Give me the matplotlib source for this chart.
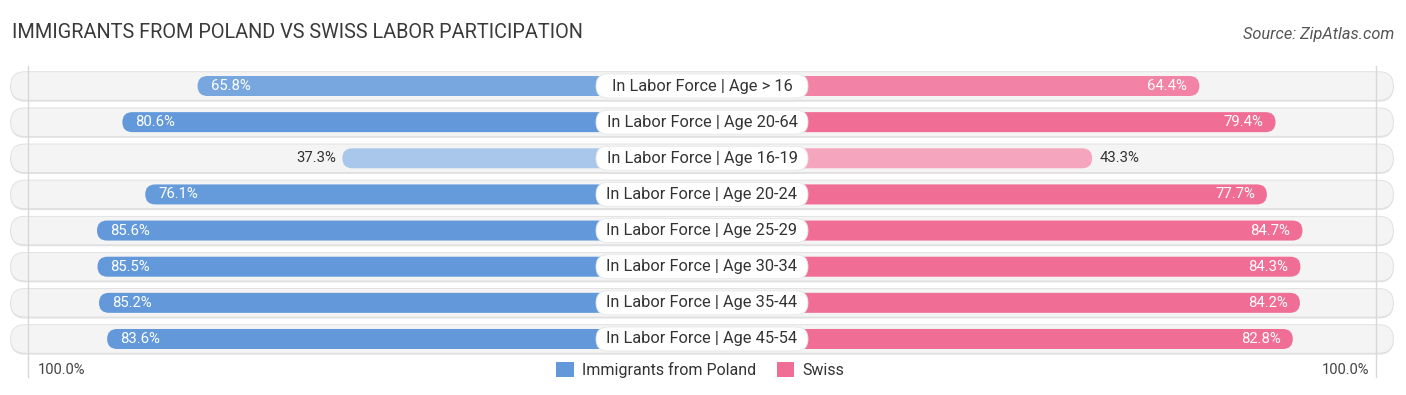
import matplotlib
matplotlib.use("Agg")
import matplotlib.pyplot as plt
from matplotlib.patches import FancyBboxPatch, Patch
import numpy as np

plt.rcParams['font.family'] = ['Roboto', 'DejaVu Sans']

categories = ["In Labor Force | Age > 16", "In Labor Force | Age 20-64", "In Labor Force | Age 16-19",
              "In Labor Force | Age 20-24", "In Labor Force | Age 25-29", "In Labor Force | Age 30-34",
              "In Labor Force | Age 35-44", "In Labor Force | Age 45-54"]
poland = [65.8, 80.6, 37.3, 76.1, 85.6, 85.5, 85.2, 83.6]
swiss = [64.4, 79.4, 43.3, 77.7, 84.7, 84.3, 84.2, 82.8]
series_names = ["Immigrants from Poland", "Swiss"]
title = "IMMIGRANTS FROM POLAND VS SWISS LABOR PARTICIPATION"
source = "Source: ZipAtlas.com"
axis_label = "100.0%"

W, H = 1406, 395
PX_X = 5.08      # px per percent unit
PX_Y = 36.14     # px per row
CX = 702         # center px
ROW0 = 86        # first row center px from top
OFFSET = 33.5    # zero offset (units) from center
ASPECT = PX_X / PX_Y

blue = np.array([99, 153, 218]) / 255
pink = np.array([240, 109, 150]) / 255

def shade(base, v):
    t = np.clip((v - 37) / (78 - 37), 0, 1)
    a = 0.55 + 0.45 * t
    return tuple(1 - a * (1 - base))

fig = plt.figure(figsize=(W / 100, H / 100), dpi=100)
ax = fig.add_axes([0, 0, 1, 1])
ax.set_xlim(-CX / PX_X, (W - CX) / PX_X)
ax.set_ylim(-(H - ROW0) / PX_Y, ROW0 / PX_Y)
ax.axis('off')

def rbox(x0, yc, w, h_px, **kw):
    h = h_px / PX_Y
    r = (h_px / 2) / PX_X
    p = FancyBboxPatch((x0, yc - h / 2), w, h,
                       boxstyle=f"round,pad=0,rounding_size={r}",
                       mutation_aspect=ASPECT, **kw)
    ax.add_patch(p)
    return p

pill_half = 136.1
for i, cat in enumerate(categories):
    y = -i
    rbox(-pill_half, y - 1.2 / PX_Y, 2 * pill_half, 29, facecolor="#e2e2e2", edgecolor="none", zorder=1)
    rbox(-pill_half, y, 2 * pill_half, 28.5, facecolor="#f4f4f4", edgecolor="#dedede", linewidth=0.6, zorder=1.1)

# faint vertical lines near 100%
for s in (-1, 1):
    ax.plot([s * (OFFSET + 99.2)] * 2, [20 / PX_Y, -(377 - ROW0) / PX_Y],
            color="#d8d8d8", linewidth=1, zorder=1.5)

for i, cat in enumerate(categories):
    y = -i
    vl, vr = poland[i], swiss[i]
    wl = OFFSET + vl
    rbox(-wl, y, wl, 20, facecolor=shade(blue, vl), edgecolor="none", zorder=2)
    wr = OFFSET + vr
    rbox(0, y, wr, 20, facecolor=shade(pink, vr), edgecolor="none", zorder=2)
    if vl > 50:
        ax.text(-wl + 13 / PX_X, y, f"{vl:.1f}%", ha="left", va="center", color="white",
                fontsize=10.7, zorder=4)
    else:
        ax.text(-wl - 6 / PX_X, y, f"{vl:.1f}%", ha="right", va="center", color="#333333",
                fontsize=10.7, zorder=4)
    if vr > 50:
        ax.text(wr - 12 / PX_X, y, f"{vr:.1f}%", ha="right", va="center", color="white",
                fontsize=10.7, zorder=4)
    else:
        ax.text(wr + 7 / PX_X, y, f"{vr:.1f}%", ha="left", va="center", color="#333333",
                fontsize=10.7, zorder=4)
    lw = 212 / PX_X
    rbox(-lw / 2, y, lw, 24, facecolor="white", edgecolor="#e6e6e6", linewidth=0.6, zorder=3)
    ax.text(0, y, cat, ha="center", va="center", color="#333333", fontsize=11.8, zorder=4)

fig.text(12 / W, 1 - 33 / H, title, ha="left", va="center", fontsize=14.3, color="#3a3a3a")
fig.text(1394 / W, 1 - 34 / H, source, ha="right", va="center", fontsize=11.8, color="#555555",
         style="italic")

fig.text(38 / W, 1 - 370 / H, axis_label, ha="left", va="center", fontsize=10.5, color="#444444")
fig.text(1369 / W, 1 - 370 / H, axis_label, ha="right", va="center", fontsize=10.5, color="#444444")

handles = [Patch(facecolor=tuple(blue), edgecolor="none", label=series_names[0]),
           Patch(facecolor=tuple(pink), edgecolor="none", label=series_names[1])]
fig.legend(handles=handles, loc="center", bbox_to_anchor=(700 / W, 1 - 370 / H), ncol=2,
           frameon=False, fontsize=11.5, handlelength=1.1, handleheight=1.1,
           handletextpad=0.5, columnspacing=1.3, labelcolor="#333333")

fig.savefig("out.png", dpi=100)
